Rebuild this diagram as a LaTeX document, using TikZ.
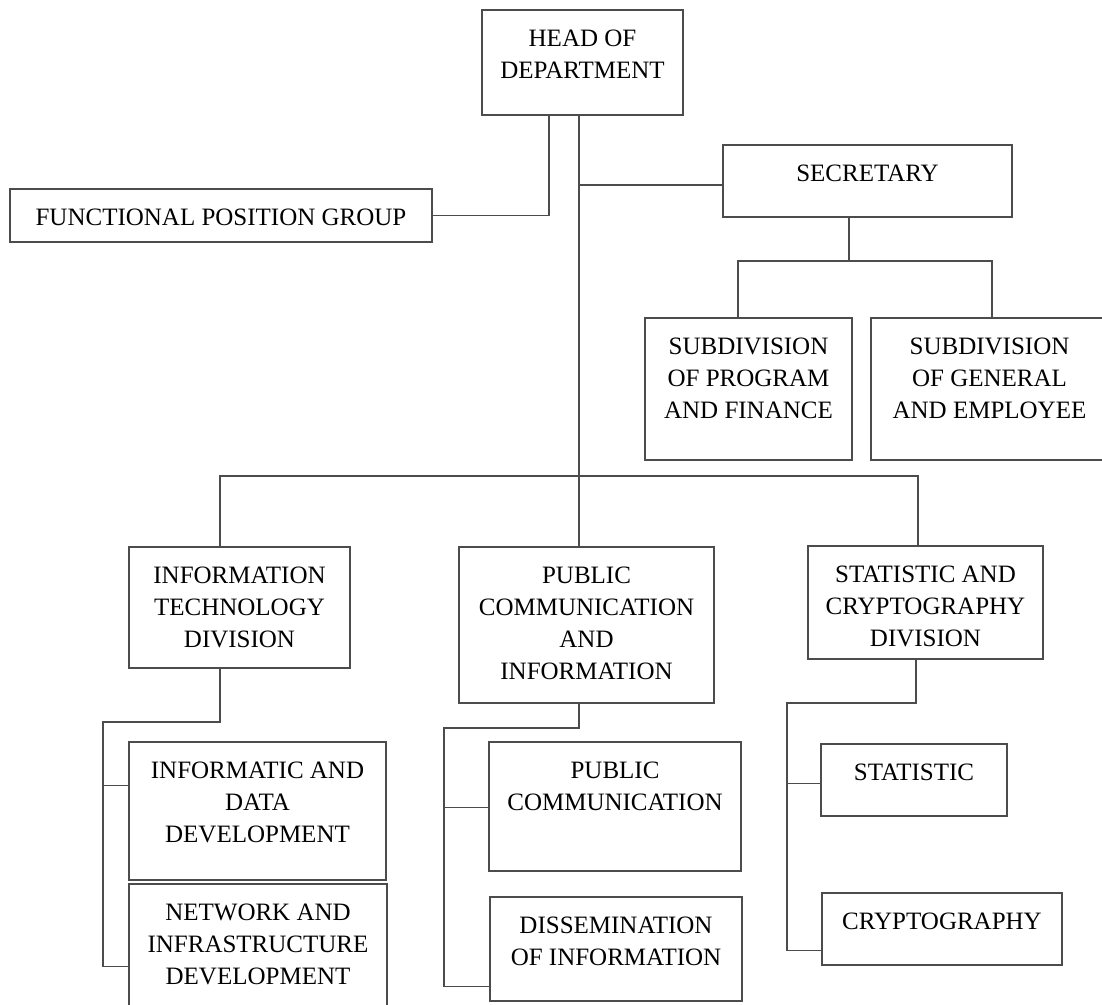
\documentclass[tikz,border=0pt]{standalone}
\usepackage{fontspec}
\setmainfont{Liberation Serif}
\newcommand{\orgbox}[6]{%
  \node[box, minimum width={#4-#2}, minimum height={#5-#3}] (#1) at ({(#2+#4)/2},{(#3+#5)/2}) {};
  \node[txt] (#1t) at ([yshift=-20pt]#1.north) {#6};}
\begin{document}
\begin{tikzpicture}[x=1pt,y=-1pt,
  box/.style={draw=black!70, line width=1.2pt, rectangle, inner sep=0pt, fill=white},
  txt/.style={anchor=north, align=center, inner sep=0pt, font=\fontsize{25}{32}\selectfont},
  conn/.style={draw=black!70, line width=1.2pt}]
\useasboundingbox[fill=white] (0,0) rectangle (1102,1004);
% boxes
\orgbox{head}{482}{10}{683}{115}{HEAD OF\\DEPARTMENT}
\orgbox{fpg}{10}{189}{432}{242}{FUNCTIONAL POSITION GROUP}
\orgbox{sec}{723}{145}{1012}{217}{SECRETARY}
\orgbox{sp}{645}{318}{852}{460}{SUBDIVISION\\OF PROGRAM\\AND FINANCE}
\orgbox{sg}{871}{318}{1108}{460}{SUBDIVISION\\OF GENERAL\\AND EMPLOYEE}
\orgbox{it}{129}{547}{350}{668}{INFORMATION\\TECHNOLOGY\\DIVISION}
\orgbox{pci}{459}{547}{714}{703}{PUBLIC\\COMMUNICATION\\AND\\INFORMATION}
\orgbox{sc}{808}{546}{1043}{659}{STATISTIC AND\\CRYPTOGRAPHY\\DIVISION}
\orgbox{inf}{129}{742}{386}{880}{INFORMATIC AND\\DATA\\DEVELOPMENT}
\orgbox{net}{129}{884}{387}{1014}{NETWORK AND\\INFRASTRUCTURE\\DEVELOPMENT}
\orgbox{pc}{489}{742}{741}{871}{PUBLIC\\COMMUNICATION}
\orgbox{dis}{490}{897}{742}{1001}{DISSEMINATION\\OF INFORMATION}
\orgbox{stat}{821}{744}{1007}{816}{STATISTIC}
\orgbox{cry}{822}{893}{1062}{965}{CRYPTOGRAPHY}
% helper coordinates
\coordinate (trk) at ([xshift=-3.5pt]head.south);
\coordinate (fpgT) at ([xshift=-33.5pt]head.south);
\coordinate (secL) at ([yshift=-4pt]sec.west);
\coordinate (secB) at ([xshift=-18.5pt]sec.south);
\coordinate (sbus) at (0,261);
\coordinate (spT) at ([xshift=-10.5pt]sp.north);
\coordinate (sgT) at ([xshift=2.5pt]sg.north);
\coordinate (bus) at (0,476);
\coordinate (itT) at ([xshift=-19.5pt]it.north);
\coordinate (scT) at ([xshift=-7.5pt]sc.north);
\coordinate (itB) at ([xshift=-19.5pt]it.south);
\coordinate (itbar) at (103,722);
\coordinate (pbar) at (444,728);
\coordinate (scB) at ([xshift=-9.5pt]sc.south);
\coordinate (scbar) at (787,703);
% connectors
\draw[conn] (fpgT) |- (fpg.east);
\draw[conn] (trk) -- (trk |- pci.north);
\draw[conn] (trk |- secL) -- (secL);
\draw[conn] (secB) -- (secB |- sbus);
\draw[conn] (spT) |- (sgT |- sbus) -- (sgT);
\draw[conn] (itT) |- (scT |- bus) -- (scT);
\draw[conn] (itB) |- (itbar) |- ([yshift=-44pt]inf.north west);
\draw[conn] (itbar) |- ([yshift=-83pt]net.north west);
\draw[conn] (trk |- pci.south) |- (pbar) |- ([yshift=-66pt]pc.north west);
\draw[conn] (pbar) |- ([yshift=-90pt]dis.north west);
\draw[conn] (scB) |- (scbar) |- ([yshift=-40pt]stat.north west);
\draw[conn] (scbar) |- ([yshift=-58pt]cry.north west);
\end{tikzpicture}
\end{document}
